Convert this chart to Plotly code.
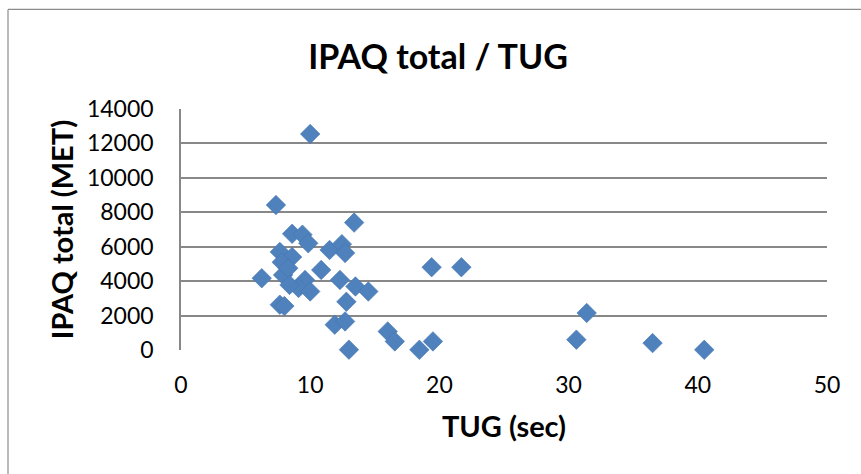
import plotly.graph_objects as go

tug_sec = [10.0, 7.35, 13.4, 8.6, 9.4, 9.85, 11.5, 12.45, 12.7, 7.65, 8.6,
           7.8, 6.25, 7.9, 8.3, 9.6, 10.85, 9.1, 8.4, 10.0, 12.3, 13.5, 14.5,
           12.8, 7.65, 8.0, 11.9, 12.7, 16.0, 16.55, 13.0, 18.45, 19.5, 19.4,
           21.7, 31.4, 30.6, 36.5, 40.5]
ipaq_met = [12550, 8420, 7400, 6750, 6700, 6200, 5810, 6150, 5640, 5700, 5400,
            5100, 4170, 4360, 4750, 4070, 4650, 3600, 3780, 3400, 4070, 3690, 3400,
            2800, 2630, 2550, 1470, 1660, 1080, 500, 20, 10, 500, 4810,
            4810, 2150, 600, 400, 10]

title_text = "IPAQ total / TUG"
x_title = "TUG (sec)"
y_title = "IPAQ total (MET)"
x_ticks = [0, 10, 20, 30, 40, 50]
y_ticks = [0, 2000, 4000, 6000, 8000, 10000, 12000, 14000]

FONT = "Lato"
GRID = "#888888"

fig = go.Figure()
fig.add_trace(go.Scatter(
    x=tug_sec, y=ipaq_met, mode="markers",
    marker=dict(symbol="diamond", size=15, color="#4F81BD",
                line=dict(color="#4475B0", width=0.6)),
    showlegend=False, cliponaxis=False,
))

fig.update_layout(
    width=861, height=474,
    margin=dict(l=181, r=34, t=109, b=124),
    paper_bgcolor="white", plot_bgcolor="white",
    font=dict(family=FONT, color="black"),
    title=dict(text="<b>" + title_text + "</b>", x=(438 - 181) / 646, xref="paper",
               xanchor="center", y=1 - 57 / 474, yanchor="middle",
               font=dict(family=FONT, size=34, color="black")),
    xaxis=dict(range=[0, 50], tickvals=x_ticks, ticktext=[str(v) for v in x_ticks],
               showgrid=False, zeroline=False, showline=False,
               ticks="", ticklabelstandoff=19,
               tickfont=dict(family=FONT, size=23, color="black"),
               title=dict(text="<b>" + x_title + "</b>", standoff=19,
                          font=dict(family=FONT, size=29, color="black"))),
    yaxis=dict(range=[0, 14000], tickvals=y_ticks, ticktext=[str(v) for v in y_ticks],
               showgrid=True, gridcolor=GRID, gridwidth=1.6,
               zeroline=False, showline=True, linecolor=GRID, linewidth=1.6,
               ticks="", ticklabelstandoff=21,
               tickfont=dict(family=FONT, size=23, color="black"),
               title=dict(text="<b>" + y_title + "</b>", standoff=5,
                          font=dict(family=FONT, size=29, color="black"))),
    shapes=[
        dict(type="line", xref="paper", yref="paper",
             x0=(8 - 181) / 646, x1=(870 - 181) / 646,
             y0=(350.3 - 9) / 241.5, y1=(350.3 - 9) / 241.5,
             line=dict(color="#8c8c8c", width=1.2)),
        dict(type="line", xref="paper", yref="paper",
             x0=(8 - 181) / 646, x1=(8 - 181) / 646,
             y0=(350.3 - 9) / 241.5, y1=(350.3 - 490) / 241.5,
             line=dict(color="#8c8c8c", width=1.2)),
    ],
)

fig.write_html("out.html")
